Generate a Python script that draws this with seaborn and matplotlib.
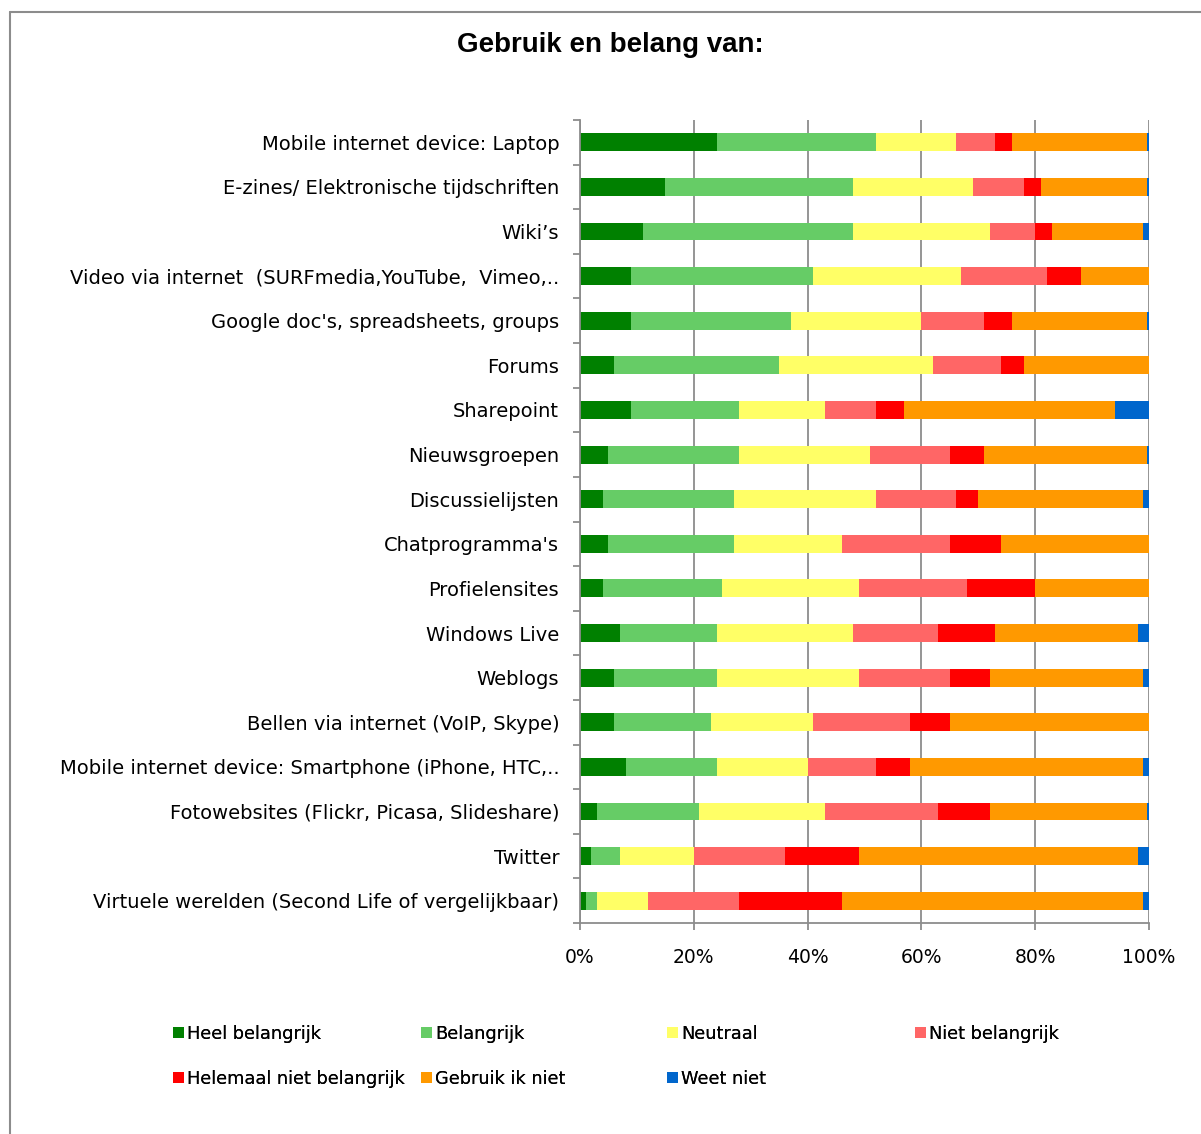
import numpy as np
import pandas as pd
import matplotlib
matplotlib.use("Agg")
import matplotlib.pyplot as plt
import seaborn as sns
from matplotlib.patches import Patch
from matplotlib.lines import Line2D

sns.set_theme(style="white")
plt.rcParams['font.family'] = ['DejaVu Sans']
plt.rcParams['text.color'] = 'black'

categories = [
    "Mobile internet device: Laptop",
    "E-zines/ Elektronische tijdschriften",
    "Wiki\u2019s",
    "Video via internet  (SURFmedia,YouTube,  Vimeo,..",
    "Google doc's, spreadsheets, groups",
    "Forums",
    "Sharepoint",
    "Nieuwsgroepen",
    "Discussielijsten",
    "Chatprogramma's",
    "Profielensites",
    "Windows Live",
    "Weblogs",
    "Bellen via internet (VoIP, Skype)",
    "Mobile internet device: Smartphone (iPhone, HTC,..",
    "Fotowebsites (Flickr, Picasa, Slideshare)",
    "Twitter",
    "Virtuele werelden (Second Life of vergelijkbaar)",
]

heel_belangrijk = [24, 15, 11, 9, 9, 6, 9, 5, 4, 5, 4, 7, 6, 6, 8, 3, 2, 1]
belangrijk = [28, 33, 37, 32, 28, 29, 19, 23, 23, 22, 21, 17, 18, 17, 16, 18, 5, 2]
neutraal = [14, 21, 24, 26, 23, 27, 15, 23, 25, 19, 24, 24, 25, 18, 16, 22, 13, 9]
niet_belangrijk = [7, 9, 8, 15, 11, 12, 9, 14, 14, 19, 19, 15, 16, 17, 12, 20, 16, 16]
helemaal_niet = [3, 3, 3, 6, 5, 4, 5, 6, 4, 9, 12, 10, 7, 7, 6, 9, 13, 18]
gebruik_ik_niet = [23.6, 18.6, 16, 12, 23.7, 22, 37, 28.7, 29, 26, 20, 25, 27, 35, 41, 27.7, 49, 53]
weet_niet = [0.4, 0.4, 1, 0, 0.3, 0, 6, 0.3, 1, 0, 0, 2, 1, 0, 1, 0.3, 2, 1]

series_names = ["Heel belangrijk", "Belangrijk", "Neutraal", "Niet belangrijk",
                "Helemaal niet belangrijk", "Gebruik ik niet", "Weet niet"]
series_values = [heel_belangrijk, belangrijk, neutraal, niet_belangrijk,
                 helemaal_niet, gebruik_ik_niet, weet_niet]
colors = ["#008000", "#66CC66", "#FFFF66", "#FF6666", "#FF0000", "#FF9900", "#0066CC"]

df = pd.DataFrame({n: v for n, v in zip(series_names, series_values)}, index=categories)
pct = df.div(df.sum(axis=1), axis=0) * 100
cum = pct.cumsum(axis=1)

W, H = 1201, 1134
fig = plt.figure(figsize=(W / 100, H / 100), dpi=100)
ax = fig.add_axes([580 / W, 1 - 923 / H, (1149 - 580) / W, (923 - 120) / H])

grey = "#8C8C8C"
ax.set_axisbelow(True)
ax.xaxis.grid(True, color=grey, linewidth=1.3)
ax.yaxis.grid(False)

for name, col in reversed(list(zip(series_names, colors))):
    d = pd.DataFrame({"cat": categories, "val": cum[name].values})
    sns.barplot(data=d, y="cat", x="val", order=categories, color=col,
                orient="h", width=0.4, ax=ax, saturation=1, linewidth=0,
                edgecolor="none")

ax.set_xlim(0, 100)
ax.set_ylim(17.5, -0.5)
ax.set_xticks([0, 20, 40, 60, 80, 100])
ax.set_xticklabels(["0%", "20%", "40%", "60%", "80%", "100%"])
ax.set_xlabel("")
ax.set_ylabel("")
ax.set_yticks(range(len(categories)))
ax.set_yticklabels(categories)
ax.set_yticks(np.arange(-0.5, 18, 1), minor=True)

for s in ["top", "right"]:
    ax.spines[s].set_visible(False)
for s in ["left", "bottom"]:
    ax.spines[s].set_color(grey)
    ax.spines[s].set_linewidth(1.3)

ax.tick_params(axis="y", which="major", length=0, pad=15, labelsize=14, labelcolor="black")
ax.tick_params(axis="y", which="minor", left=True, length=5, width=1.3, color=grey)
ax.tick_params(axis="x", which="major", bottom=True, length=5, width=1.3, color=grey,
               pad=13, labelsize=13.5, labelcolor="black")

fig.text(610 / W, 1 - 45 / H, "Gebruik en belang van:", ha="center", va="center",
         fontsize=20, fontweight="bold", family="Liberation Sans", color="black")

# outer frame
fig.add_artist(Line2D([9.5 / W, 9.5 / W], [0, 1 - 12 / H], transform=fig.transFigure,
                      color=grey, linewidth=1.5))
fig.add_artist(Line2D([9.5 / W, 1], [1 - 12 / H, 1 - 12 / H], transform=fig.transFigure,
                      color=grey, linewidth=1.5))

# legend in four columns, row-wise order
col_x = [175, 423, 669, 917]
handles = [Patch(facecolor=c, edgecolor="none", label=n) for n, c in zip(series_names, colors)]
columns = [[0, 4], [1, 5], [2, 6], [3]]
for cx, idx in zip(col_x, columns):
    leg = fig.legend(handles=[handles[i] for i in idx], loc="upper left",
                     bbox_to_anchor=((cx - 2) / W, 1 - 1025 / H), frameon=False,
                     fontsize=12.8, handlelength=0.6, handleheight=0.6,
                     handletextpad=0.2, labelspacing=1.5, borderpad=0, borderaxespad=0,
                     labelcolor="black")
    fig.add_artist(leg)

fig.savefig("out.png", dpi=100, facecolor="white")
